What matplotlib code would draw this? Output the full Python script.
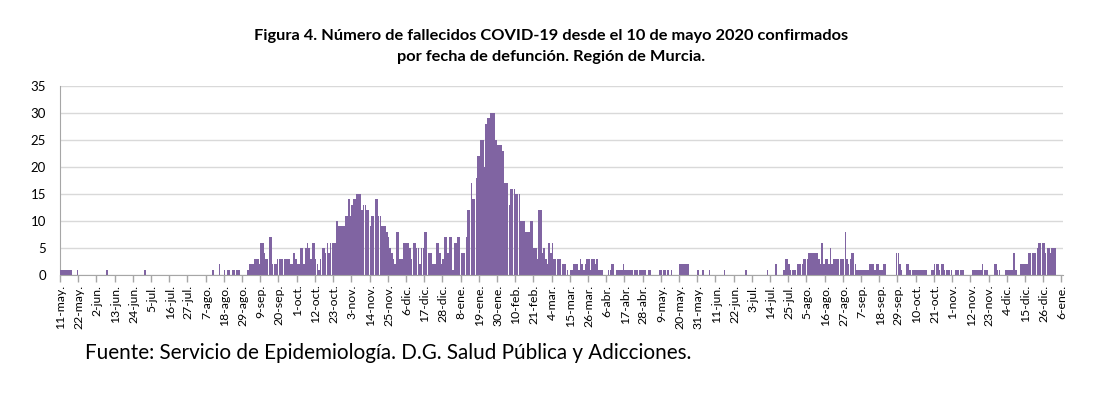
import matplotlib
matplotlib.use("Agg")
import matplotlib.pyplot as plt
import numpy as np
import pandas as pd

plt.rcParams['font.family'] = ['Lato', 'DejaVu Sans']

start_date = "2020-05-11"

# Daily deaths (days 0-99)
deaths_a = [1,1,1,1,1,1,1,0,0,0,
            1,0,0,0,0,0,0,0,0,0,
            0,0,0,0,0,0,0,0,1,0,
            0,0,0,0,0,0,0,0,0,0,
            0,0,0,0,0,0,0,0,0,0,
            0,1,0,0,0,0,0,0,0,0,
            0,0,0,0,0,0,0,0,0,0,
            0,0,0,0,0,0,0,0,0,0,
            0,0,0,0,0,0,0,0,0,0,
            0,0,1,0,0,0,2,0,0,1]
# days 100-199
deaths_b = [0,1,1,0,1,1,1,1,1,0,
            0,0,0,1,2,2,2,3,3,3,
            2,6,6,4,3,3,7,7,2,2,
            2,3,3,3,3,3,3,3,3,2,
            2,4,3,2,2,5,5,2,5,6,
            5,3,6,6,3,2,1,3,5,5,
            4,6,4,6,6,6,6,10,9,9,
            9,9,11,11,14,11,13,14,14,15,
            15,15,12,13,13,12,12,9,11,11,
            14,14,11,11,9,9,9,8,7,5]
# days 200-299
deaths_c = [4,3,2,8,8,3,3,6,6,6,
            6,5,3,6,6,5,5,2,5,5,
            8,8,4,4,4,2,2,6,6,4,
            2,3,7,7,4,7,7,1,6,6,
            7,7,4,4,4,7,12,12,17,14,
            14,18,22,22,25,25,20,28,29,29,
            30,30,30,25,24,24,24,23,17,17,
            17,13,16,16,16,15,15,15,10,10,
            10,8,8,8,10,10,5,5,3,12,
            12,4,5,3,2,6,4,6,3,3]
# days 300-399
deaths_d = [3,3,3,2,2,2,1,0,1,1,
            2,2,2,1,3,2,1,2,3,3,
            1,3,3,2,3,1,1,1,0,0,
            0,1,1,2,2,0,1,1,1,1,
            2,1,1,1,1,1,0,1,1,0,
            1,1,1,1,0,1,1,0,0,0,
            0,0,1,1,1,1,0,1,0,1,
            0,0,0,0,2,2,2,2,2,2,
            0,0,0,0,0,1,0,0,1,0,
            0,0,1,0,0,0,0,0,0,0]
# days 400-499
deaths_e = [0,1,0,0,0,0,0,0,0,0,
            0,0,0,0,1,0,0,0,0,0,
            0,0,0,0,0,0,0,1,0,0,
            0,0,2,0,0,0,0,1,3,3,
            2,1,1,1,1,2,2,2,2,3,
            3,3,4,4,4,4,4,4,3,2,
            6,2,3,3,2,5,2,3,3,3,
            3,3,3,3,8,3,2,3,4,4,
            2,1,1,1,1,1,1,1,1,2,
            2,2,1,2,2,1,1,2,2,0]
# days 500-605
deaths_f = [0,0,0,0,0,4,4,2,1,0,
            0,2,2,1,0,1,1,1,1,1,
            1,1,1,1,0,0,1,1,2,2,
            2,1,2,2,1,1,1,1,1,0,
            0,1,1,0,1,1,0,0,0,0,
            0,1,1,1,1,1,1,2,1,1,
            1,0,0,0,2,2,1,1,0,0,
            0,1,1,1,1,1,4,1,0,0,
            2,2,2,2,2,4,4,4,4,4,
            5,6,6,6,6,4,5,5,4,5,
            5,5,0,0,0,0]

deaths = deaths_a + deaths_b + deaths_c + deaths_d + deaths_e + deaths_f
dates = pd.date_range(start_date, periods=len(deaths), freq="D")

month_abbr = {1: "ene", 2: "feb", 3: "mar", 4: "abr", 5: "may", 6: "jun",
              7: "jul", 8: "ago", 9: "sep", 10: "oct", 11: "nov", 12: "dic"}
label_step = 11

title_text = ("Figura 4. Número de fallecidos COVID-19 desde el 10 de mayo 2020 confirmados\n"
              "por fecha de defunción. Región de Murcia.")
source_text = "Fuente: Servicio de Epidemiología. D.G. Salud Pública y Adicciones."

fig = plt.figure(figsize=(11, 3.95), dpi=100)
ax = fig.add_axes([60/1100, 1-275/395, (1063-60)/1100, (275-86)/395])

x = np.arange(len(deaths))
ax.bar(x, deaths, width=0.92, color="#8064A2", linewidth=0, zorder=3)

ax.set_xlim(-0.5, len(deaths) - 0.5)
ax.set_ylim(0, 35)
ax.set_yticks(np.arange(0, 36, 5))
ax.yaxis.grid(True, color="#d9d9d9", linewidth=1.0, zorder=0)
ax.tick_params(axis="y", length=0, labelsize=9.5, pad=10, colors="#000000")

lab_idx = np.arange(0, len(deaths), label_step)
ax.set_xticks(lab_idx)
ax.set_xticklabels([f"{d.day}-{month_abbr[d.month]}." for d in dates[lab_idx]],
                   rotation=90, fontsize=8.8)
ax.tick_params(axis="x", which="major", length=0, pad=7)
ax.set_xticks(np.arange(-0.5, len(deaths), label_step), minor=True)
ax.tick_params(axis="x", which="minor", length=5, width=1, color="#a6a6a6", direction="out")

for s in ["top", "right"]:
    ax.spines[s].set_visible(False)
ax.spines["left"].set_color("#a6a6a6")
ax.spines["bottom"].set_color("#a6a6a6")
ax.spines["bottom"].set_zorder(4)

fig.text(551/1100, 1-46.5/395, title_text, ha="center", va="center",
         fontsize=11.8, fontweight="bold", linespacing=1.62)
fig.text(85/1100, 1-353/395, source_text, ha="left", va="center", fontsize=14.9)

fig.savefig("out.png", dpi=100)
